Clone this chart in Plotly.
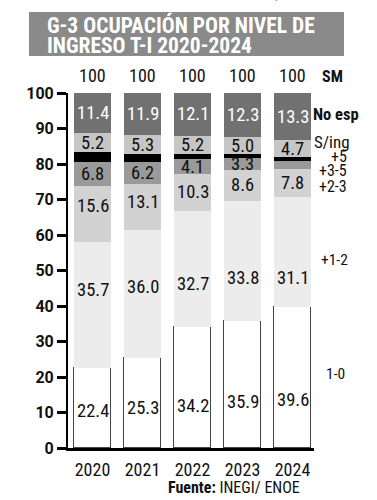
import plotly.graph_objects as go

# ---------------- data ----------------
years = ["2020", "2021", "2022", "2023", "2024"]
totals = [100, 100, 100, 100, 100]
s_1_0 = [22.4, 25.3, 34.2, 35.9, 39.6]
s_1_2 = [35.7, 36.0, 32.7, 33.8, 31.1]
s_2_3 = [15.6, 13.1, 10.3, 8.6, 7.8]
s_3_5 = [6.8, 6.2, 4.1, 3.3, 2.4]
s_5 = [2.9, 2.2, 1.4, 1.1, 1.1]
s_sing = [5.2, 5.3, 5.2, 5.0, 4.7]
s_noesp = [11.4, 11.9, 12.1, 12.3, 13.3]
series_names = ["1-0", "+1-2", "+2-3", "+3-5", "+5", "S/ing", "No esp"]
y_ticks = [0, 10, 20, 30, 40, 50, 60, 70, 80, 90, 100]

# ---------------- styles / layout ----------------
W, H = 377, 500
PL, PR, PT, PB = 68, 314, 93, 448  # plot area in px

def px_x(px):
    return (px - PL) / (PR - PL)

def px_y(py):
    return (PB - py) / (PB - PT)

FONT = "Roboto, Liberation Sans, sans-serif"
NARROW = "Liberation Sans Narrow, Roboto Condensed, Roboto, sans-serif"

series = [s_1_0, s_1_2, s_2_3, s_3_5, s_5, s_sing, s_noesp]
colors = ["#ffffff", "#ececec", "#d2d2d2", "#9a9a9a", "#000000", "#c6c6c6", "#717171"]
line_w = [1, 0, 0, 0, 0, 0, 0]
show_label = [
    [True] * 5, [True] * 5, [True] * 5,
    [True, True, True, True, False],
    [False] * 5, [True] * 5, [True] * 5,
]
label_colors = ["#111", "#111", "#111", "#111", "#fff", "#111", "#fff"]
# manual label heights (data units) for some series, else centered
label_y_override = {
    0: [10.4, 11.2, 11.8, 12.9, 13.5],
    1: [44.5, 45.3, 46.2, 47.8, 47.8],
    2: [68.2, 69.4, None, None, None],
}

xpos = list(range(len(years)))

fig = go.Figure()
for i, (name, vals) in enumerate(zip(series_names, series)):
    fig.add_trace(go.Bar(
        x=xpos, y=vals, name=name, width=0.74,
        marker=dict(color=colors[i], line=dict(color="#444", width=line_w[i])),
        hoverinfo="skip",
    ))

annotations = []
cum = [0.0] * len(years)
for i, vals in enumerate(series):
    for j, v in enumerate(vals):
        if show_label[i][j]:
            yy = cum[j] + v / 2
            ov = label_y_override.get(i)
            if ov and ov[j] is not None:
                yy = ov[j]
            annotations.append(dict(
                x=xpos[j], y=yy, xref="x", yref="y", text=f"{v:.1f}",
                showarrow=False, font=dict(family=NARROW, size=18.5, color=label_colors[i]),
            ))
    cum = [c + v for c, v in zip(cum, vals)]

# totals above bars
for j, t in enumerate(totals):
    annotations.append(dict(
        x=xpos[j], y=px_y(75), xref="x", yref="paper", text=str(t), showarrow=False,
        yanchor="middle", font=dict(family=NARROW, size=18, color="#111"),
    ))

# right-side series labels
right_labels = [
    ("SM", 332, 76, "center", 16),
    ("No esp", 312, 114, "left", 16.5),
    ("S/ing", 313, 142, "left", 17),
    ("+5", 348, 156, "right", 16),
    ("+3-5", 348, 170.5, "right", 16),
    ("+2-3", 348, 186, "right", 16),
    ("+1-2", 349, 260, "right", 15.5),
    ("1-0", 335, 374, "center", 15.5),
]
for txt, x0, y0, anc, sz in right_labels:
    annotations.append(dict(
        x=px_x(x0), y=px_y(y0), xref="paper", yref="paper", text=txt, showarrow=False,
        xanchor=anc, yanchor="middle", borderpad=0,
        font=dict(family=NARROW, size=sz, color="#111", weight="bold" if txt in ("SM", "No esp") else "normal"),
    ))

# title
annotations.append(dict(
    x=px_x(45), y=px_y(24.5), xref="paper", yref="paper", xanchor="left", yanchor="middle",
    text="<b>G-3 OCUPACIÓN POR NIVEL DE</b>", showarrow=False,
    font=dict(family=NARROW, size=21.5, color="#ffffff"),
))
annotations.append(dict(
    x=px_x(45), y=px_y(45.5), xref="paper", yref="paper", xanchor="left", yanchor="middle",
    text="<b>INGRESO T-I 2020-2024</b>", showarrow=False,
    font=dict(family=NARROW, size=21.5, color="#ffffff"),
))
# clipped line at very top (from previous graphic)
annotations.append(dict(
    x=px_x(327), y=px_y(5), xref="paper", yref="paper", xanchor="right", yanchor="bottom",
    text="<b>Fuente:</b> INEGI; ENOE", showarrow=False,
    font=dict(family=NARROW, size=19, color="#111"),
))
# source
annotations.append(dict(
    x=px_x(302), y=px_y(487), xref="paper", yref="paper", xanchor="right", yanchor="middle",
    text="<b>Fuente:</b> INEGI/ ENOE", showarrow=False,
    font=dict(family=NARROW, size=16, color="#111"),
))

shapes = [dict(
    type="rect", xref="paper", yref="paper",
    x0=px_x(29), x1=px_x(344), y0=px_y(56), y1=px_y(12),
    fillcolor="#8a8a8a", line=dict(width=0), layer="below",
)]

fig.update_layout(
    width=W, height=H, barmode="stack", showlegend=False,
    margin=dict(l=PL, r=W - PR, t=PT, b=H - PB),
    paper_bgcolor="#ffffff", plot_bgcolor="#ffffff",
    bargap=0,
    xaxis=dict(
        range=[-0.49, 4.43], tickvals=xpos, ticktext=years, showgrid=False, zeroline=False,
        showline=True, linecolor="#000", linewidth=2.5, ticks="",
        tickfont=dict(family=NARROW, size=18, color="#111"), ticklabelstandoff=4,
    ),
    yaxis=dict(
        range=[0, 100], tickvals=y_ticks, showgrid=False, zeroline=False,
        showline=True, linecolor="#000", linewidth=2,
        ticks="outside", ticklen=9, tickwidth=3, tickcolor="#000",
        tickfont=dict(family=FONT, size=16, color="#111", weight="bold"),
    ),
    annotations=annotations, shapes=shapes,
)

fig.write_html("out.html")
